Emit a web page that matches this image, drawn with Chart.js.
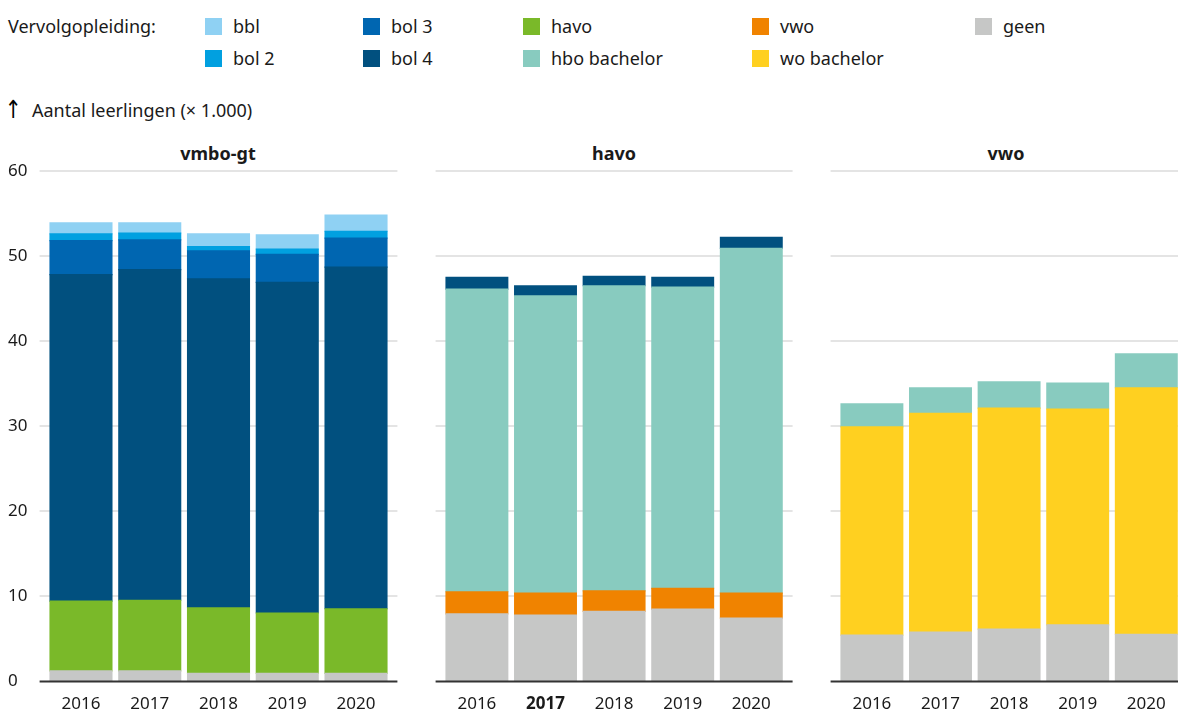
<!DOCTYPE html>
<html lang="nl">
<head>
<meta charset="UTF-8">
<title>Vervolgopleiding per schoolsoort</title>
<script src="https://cdn.jsdelivr.net/npm/chart.js"></script>
<style>
  body { margin: 0; width: 1178px; height: 711px; overflow: hidden; background: #fff;
         font-family: 'Noto Sans', sans-serif; color: #1a1a1a; position: relative; }
  .txt { position: absolute; font-size: 18px; line-height: 24px; white-space: nowrap; }
  .sw { position: absolute; width: 17px; height: 17px; }
  .ptitle { position: absolute; font-size: 18px; font-weight: bold; line-height: 24px;
            transform: translateX(-50%); white-space: nowrap; }
  .arrow { position: absolute; left: 5px; top: 96px; font-family: 'DejaVu Sans', sans-serif;
           font-size: 20px; line-height: 26px; color: #000; transform: scaleY(1.25); }
  canvas { position: absolute; }
</style>
</head>
<body>
<div class="txt" style="left:8px;top:14px">Vervolgopleiding:</div>
<div class="arrow">↑</div>
<div class="txt" style="left:32px;top:98px">Aantal leerlingen (× 1.000)</div>
<div id="legend"></div>

<script>
const years = ['2016', '2017', '2018', '2019', '2020'];
const panelNames = ['vmbo-gt', 'havo', 'vwo'];
const yTicks = [0, 10, 20, 30, 40, 50, 60];

// vmbo-gt
const vmboGeen = [1.2, 1.2, 0.9, 0.9, 0.9];
const vmboHavo = [8.2, 8.3, 7.7, 7.1, 7.6];
const vmboBol4 = [38.4, 38.9, 38.7, 38.9, 40.2];
const vmboBol3 = [4.0, 3.5, 3.3, 3.3, 3.4];
const vmboBol2 = [0.8, 0.8, 0.5, 0.6, 0.8];
const vmboBbl = [1.3, 1.2, 1.5, 1.7, 1.9];

// havo
const havoGeen = [7.9, 7.75, 8.2, 8.45, 7.4];
const havoVwo = [2.6, 2.6, 2.4, 2.45, 2.95];
const havoHbo = [35.6, 34.95, 35.9, 35.45, 40.55];
const havoBol4 = [1.4, 1.2, 1.1, 1.15, 1.3];

// vwo
const vwoGeen = [5.4, 5.75, 6.1, 6.6, 5.5];
const vwoWo = [24.5, 25.75, 26.0, 25.4, 29.0];
const vwoHbo = [2.7, 3.0, 3.1, 3.05, 4.0];

const colors = {
  'bbl': '#8fd1f3', 'bol 2': '#01a0e0', 'bol 3': '#0066b1', 'bol 4': '#01507f',
  'havo': '#7ab929', 'hbo bachelor': '#88cbbf', 'vwo': '#f08300',
  'wo bachelor': '#ffd020', 'geen': '#c6c7c6'
};

// legenda: kolommen van boven naar onder
const legendCols = [['bbl', 'bol 2'], ['bol 3', 'bol 4'], ['havo', 'hbo bachelor'], ['vwo', 'wo bachelor'], ['geen']];
const colX = [205, 363, 523, 752, 975];
const rowY = [26, 58];
const legendEl = document.getElementById('legend');
legendCols.forEach((col, ci) => {
  col.forEach((name, ri) => {
    const sw = document.createElement('div');
    sw.className = 'sw';
    sw.style.left = colX[ci] + 'px';
    sw.style.top = (rowY[ri] - 8) + 'px';
    sw.style.background = colors[name];
    legendEl.appendChild(sw);
    const t = document.createElement('div');
    t.className = 'txt';
    t.style.left = (colX[ci] + 28) + 'px';
    t.style.top = (rowY[ri] - 12) + 'px';
    t.textContent = name;
    legendEl.appendChild(t);
  });
});

// stapels van onder naar boven
const panelSeries = [
  [['geen', vmboGeen], ['havo', vmboHavo], ['bol 4', vmboBol4], ['bol 3', vmboBol3], ['bol 2', vmboBol2], ['bbl', vmboBbl]],
  [['geen', havoGeen], ['vwo', havoVwo], ['hbo bachelor', havoHbo], ['bol 4', havoBol4]],
  [['geen', vwoGeen], ['wo bachelor', vwoWo], ['hbo bachelor', vwoHbo]]
];

const panelLeft = [0, 435, 830];
const panelWidth = [398, 358, 358];
const titleX = [218, 614, 1006];

const gridPlugin = {
  id: 'extGrid',
  beforeDatasetsDraw(chart) {
    const { ctx, chartArea: a, scales: { y } } = chart;
    ctx.save();
    ctx.lineWidth = 2;
    ctx.strokeStyle = '#e4e4e4';
    yTicks.forEach(v => {
      if (v === 0) return;
      const py = Math.round(y.getPixelForValue(v));
      ctx.beginPath();
      ctx.moveTo(a.left - 7, py);
      ctx.lineTo(a.right + 7, py);
      ctx.stroke();
    });
    ctx.restore();
  },
  afterDatasetsDraw(chart) {
    const { ctx, chartArea: a, scales: { y } } = chart;
    const py = Math.round(y.getPixelForValue(0)) + 0.5;
    ctx.save();
    ctx.lineWidth = 2;
    ctx.strokeStyle = '#333';
    ctx.beginPath();
    ctx.moveTo(a.left - 7, py);
    ctx.lineTo(a.right + 7, py);
    ctx.stroke();
    ctx.restore();
  }
};

panelNames.forEach((pname, p) => {
  const title = document.createElement('div');
  title.className = 'ptitle';
  title.style.left = titleX[p] + 'px';
  title.style.top = '141px';
  title.textContent = pname;
  document.body.appendChild(title);

  const canvas = document.createElement('canvas');
  canvas.width = panelWidth[p];
  canvas.height = 551;
  canvas.style.left = panelLeft[p] + 'px';
  canvas.style.top = '160px';
  canvas.style.width = panelWidth[p] + 'px';
  canvas.style.height = '551px';
  document.body.appendChild(canvas);

  const first = p === 0;
  new Chart(canvas, {
    type: 'bar',
    data: {
      labels: years,
      datasets: panelSeries[p].map(([name, vals]) => ({
        label: name,
        data: vals,
        backgroundColor: colors[name],
        borderWidth: 0,
        inflateAmount: 0.6,
        barPercentage: 1,
        categoryPercentage: 0.9
      }))
    },
    options: {
      responsive: false,
      animation: false,
      events: [],
      layout: { padding: { left: first ? 8 : 7.6, right: first ? 7.6 : 7.4, top: 11, bottom: 0 } },
      plugins: { legend: { display: false }, tooltip: { enabled: false } },
      scales: {
        x: {
          stacked: true,
          grid: { display: false },
          border: { display: false },
          afterFit: s => { s.height = 30; },
          ticks: {
            padding: 5,
            color: '#1a1a1a',
            font: c => ({ family: "'Noto Sans', sans-serif", size: 17,
                          weight: (p === 1 && c.index === 1) ? 'bold' : 'normal' })
          }
        },
        y: {
          display: first,
          stacked: true,
          min: 0,
          max: 60,
          afterFit: s => { s.width = first ? 38.6 : 0; },
          grid: { display: false },
          border: { display: false },
          afterBuildTicks: s => { s.ticks = yTicks.map(v => ({ value: v })); },
          ticks: {
            crossAlign: 'far',
            padding: 0,
            color: '#1a1a1a',
            font: { family: "'Noto Sans', sans-serif", size: 17 }
          }
        }
      }
    },
    plugins: [gridPlugin]
  });
});
</script>
</body>
</html>
